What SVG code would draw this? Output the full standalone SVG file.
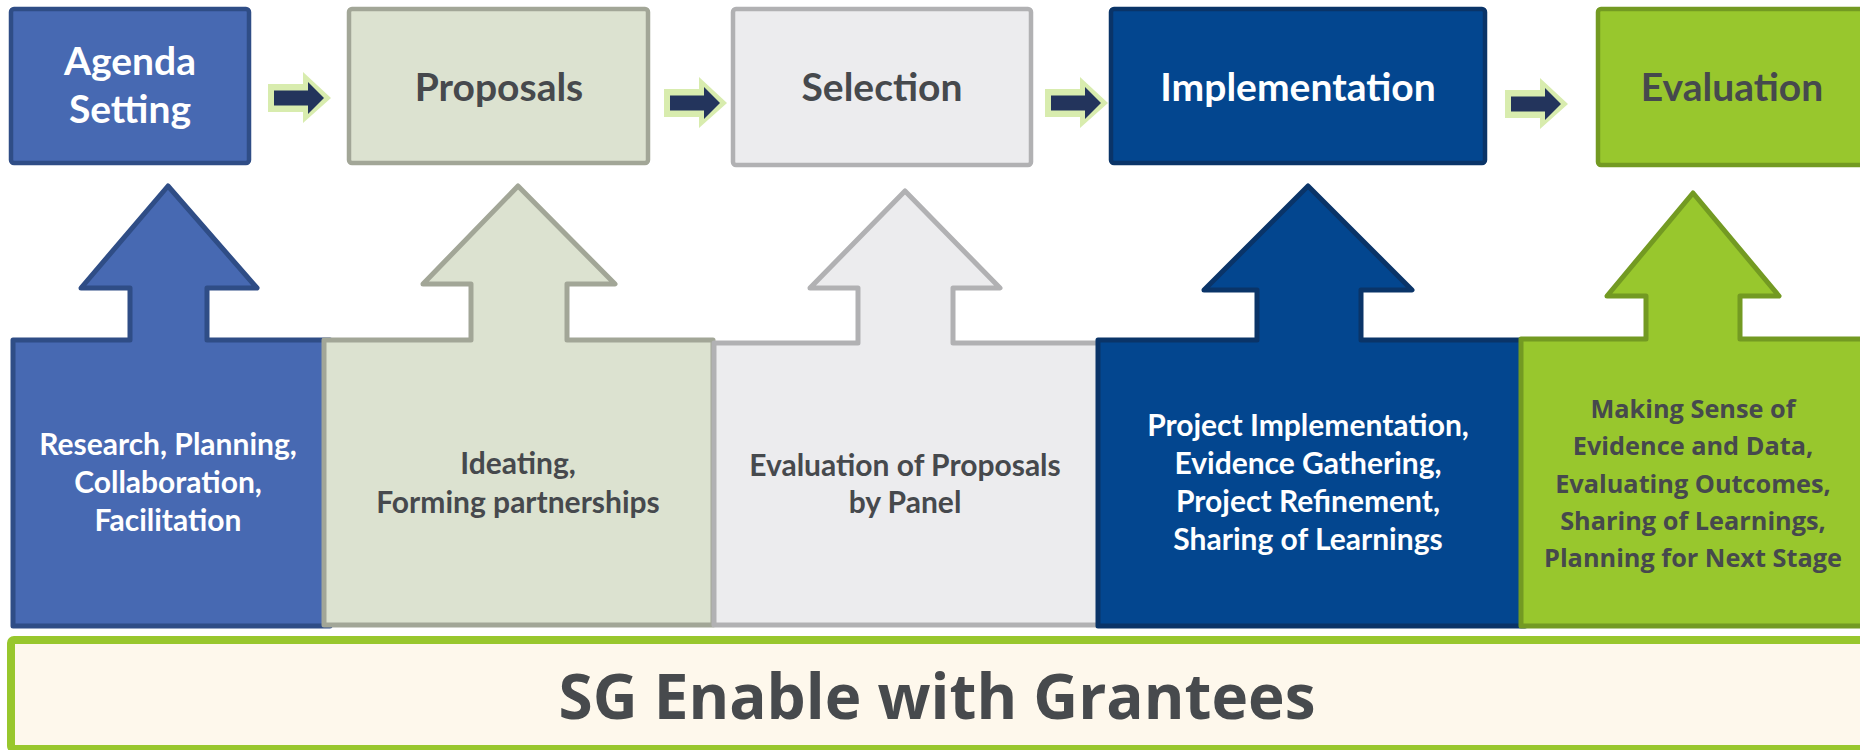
<svg xmlns="http://www.w3.org/2000/svg" xmlns:xlink="http://www.w3.org/1999/xlink" width="1860" height="750" viewBox="0 0 1860 750">
<style>
.title{font-family:Lato,"Liberation Sans",sans-serif;font-weight:700;font-size:39px;text-anchor:middle}
.body{font-family:Lato,"Liberation Sans",sans-serif;font-weight:700;font-size:30px;text-anchor:middle}
.body2{font-family:"Open Sans","Liberation Sans",sans-serif;font-weight:700;font-size:25.3px;text-anchor:middle}
.banner{font-family:"Open Sans","Liberation Sans",sans-serif;font-weight:700;font-size:62px;text-anchor:middle;fill:#474A4D}
.w{fill:#FFFFFF}
.d{fill:#46494D}
.shape{stroke-width:5;stroke-linejoin:round}
.box{stroke-width:4.5}
</style>
<defs>
<g id="flow">
<polygon points="-6,-14 29,-14 29,-26 57,0 29,25 29,14 -6,14" fill="#D8ECAE"/>
<polygon points="0,-7.5 34,-7.5 34,-16 50,0 34,16 34,7.5 0,7.5" fill="#23345C"/>
</g>
</defs>

<g id="up-agenda">
<path class="shape" d="M13,340 L130,340 L130,288 L81,288 L168,186 L257,288 L207,288 L207,340 L330,340 L330,626 L13,626 Z" fill="#4769B2" stroke="#2F4D86"/>
<text class="body w" x="168" y="455">Research, Planning,</text>
<text class="body w" x="168" y="493">Collaboration,</text>
<text class="body w" x="168" y="531">Facilitation</text>
</g>
<g id="up-proposals">
<path class="shape" d="M324,340 L471,340 L471,284 L423,284 L518,186 L615,284 L567,284 L567,340 L713,340 L713,625 L324,625 Z" fill="#DCE2D0" stroke="#A2A697"/>
<text class="body d" x="518" y="474">Ideating,</text>
<text class="body d" x="518" y="513">Forming partnerships</text>
</g>
<g id="up-selection">
<path class="shape" d="M714,343 L858,343 L858,288 L810,288 L905,191 L1000,288 L953,288 L953,343 L1100,343 L1100,625 L714,625 Z" fill="#ECECEE" stroke="#B1B1B3"/>
<text class="body d" x="905" y="476">Evaluation of Proposals</text>
<text class="body d" x="905" y="513">by Panel</text>
</g>
<g id="up-implementation">
<path class="shape" d="M1098,340 L1257,340 L1257,290 L1204,290 L1308,186 L1412,290 L1361,290 L1361,340 L1525,340 L1525,626 L1098,626 Z" fill="#03468F" stroke="#0A3468"/>
<text class="body w" x="1308" y="436">Project Implementation,</text>
<text class="body w" x="1308" y="474">Evidence Gathering,</text>
<text class="body w" x="1308" y="512">Project Refinement,</text>
<text class="body w" x="1308" y="550">Sharing of Learnings</text>
</g>
<g id="up-evaluation">
<path class="shape" d="M1521,339 L1646,339 L1646,296 L1607,296 L1693,193 L1779,296 L1740,296 L1740,339 L1870,339 L1870,626 L1521,626 Z" fill="#98C72D" stroke="#739A22"/>
<text class="body2 d" x="1693" y="418">Making Sense of</text>
<text class="body2 d" x="1693" y="455">Evidence and Data,</text>
<text class="body2 d" x="1693" y="493">Evaluating Outcomes,</text>
<text class="body2 d" x="1693" y="530">Sharing of Learnings,</text>
<text class="body2 d" x="1693" y="567">Planning for Next Stage</text>
</g>

<g id="stage-agenda">
<rect class="box" x="11" y="9" width="238" height="154" rx="3" fill="#4769B2" stroke="#2F4D86"/>
<text class="title w" x="130" y="75">Agenda</text>
<text class="title w" x="130" y="123">Setting</text>
</g>
<g id="stage-proposals">
<rect class="box" x="349" y="9" width="299" height="154" rx="3" fill="#DCE2D0" stroke="#A2A697"/>
<text class="title d" x="499" y="101">Proposals</text>
</g>
<g id="stage-selection">
<rect class="box" x="733" y="9" width="298" height="156" rx="3" fill="#ECECEE" stroke="#B1B1B3"/>
<text class="title d" x="882" y="101">Selection</text>
</g>
<g id="stage-implementation">
<rect class="box" x="1111" y="9" width="374" height="154" rx="3" fill="#03468F" stroke="#0A3468"/>
<text class="title w" x="1298" y="101">Implementation</text>
</g>
<g id="stage-evaluation">
<rect class="box" x="1598" y="9" width="272" height="156" rx="3" fill="#98C72D" stroke="#739A22"/>
<text class="title d" x="1732" y="101">Evaluation</text>
</g>

<g id="connectors">
<use xlink:href="#flow" href="#flow" x="274" y="98"/>
<use xlink:href="#flow" href="#flow" x="670" y="103"/>
<use xlink:href="#flow" href="#flow" x="1051" y="103"/>
<use xlink:href="#flow" href="#flow" x="1511" y="104"/>
</g>

<g id="banner">
<rect x="11" y="640" width="1860" height="109" rx="3" fill="#FEF8EC" stroke="#98C72D" stroke-width="8"/>
<text class="banner" x="937" y="719">SG Enable with Grantees</text>
</g>
</svg>
